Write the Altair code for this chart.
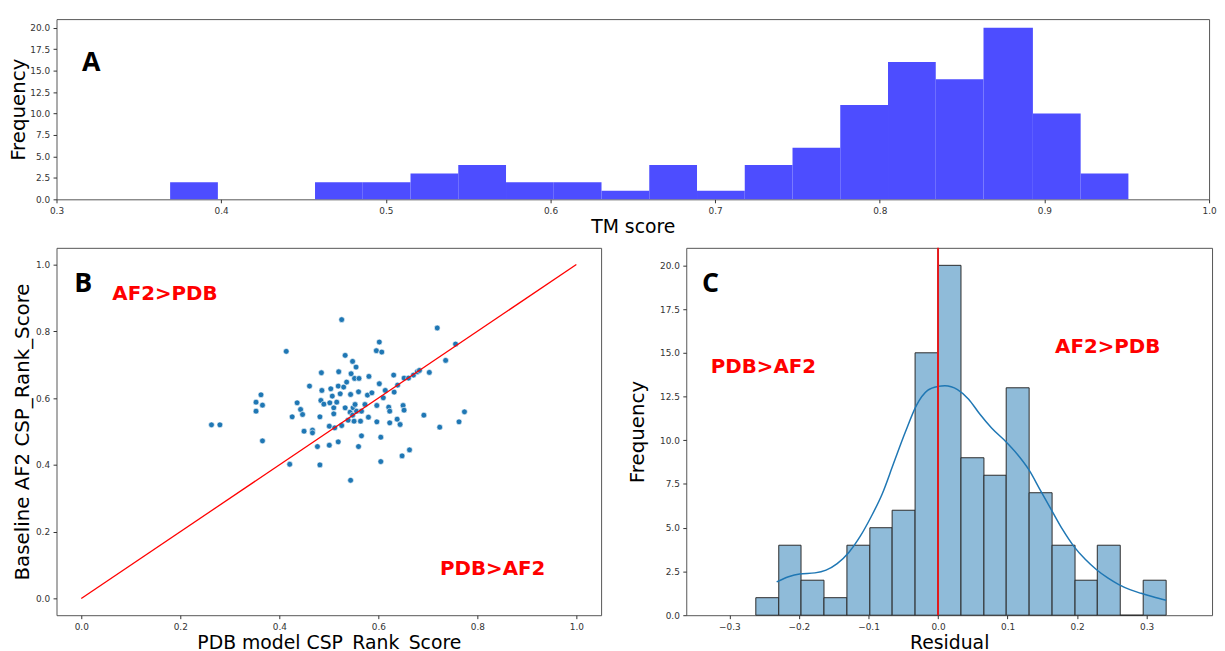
import altair as alt
import pandas as pd

FONT = "DejaVu Sans"

# ---------------- Panel A: TM score histogram ----------------
tm_bin_start = [0.369, 0.398, 0.428, 0.457, 0.486, 0.515, 0.544, 0.573, 0.602, 0.631,
                0.660, 0.689, 0.718, 0.747, 0.776, 0.805, 0.834, 0.863, 0.893, 0.922]
tm_bin_end = [0.398, 0.428, 0.457, 0.486, 0.515, 0.544, 0.573, 0.602, 0.631, 0.660,
              0.689, 0.718, 0.747, 0.776, 0.805, 0.834, 0.863, 0.893, 0.922, 0.951]
tm_counts = [2, 0, 0, 2, 2, 3, 4, 2, 2, 1, 4, 1, 4, 6, 11, 16, 14, 20, 10, 3]
tm_ticks = [0.3, 0.4, 0.5, 0.6, 0.7, 0.8, 0.9, 1.0]
freq_ticks = [0, 2.5, 5, 7.5, 10, 12.5, 15, 17.5, 20]

# ---------------- Panel B: scatter ----------------
pdb_score = [0.263, 0.280, 0.353, 0.353, 0.363, 0.366, 0.366, 0.414, 0.421, 0.426,
             0.436, 0.443, 0.447, 0.450, 0.461, 0.467, 0.467, 0.477, 0.482, 0.482,
             0.485, 0.486, 0.484, 0.490, 0.501, 0.501, 0.502, 0.504, 0.507, 0.510,
             0.512, 0.516, 0.519, 0.519, 0.520, 0.523, 0.526, 0.526, 0.530, 0.533,
             0.533, 0.536, 0.539, 0.543, 0.544, 0.544, 0.545, 0.548, 0.548, 0.549,
             0.551, 0.552, 0.553, 0.555, 0.556, 0.560, 0.560, 0.561, 0.564, 0.566,
             0.566, 0.573, 0.578, 0.580, 0.581, 0.587, 0.596, 0.597, 0.597, 0.602,
             0.602, 0.605, 0.605, 0.607, 0.610, 0.614, 0.621, 0.623, 0.623, 0.631,
             0.632, 0.638, 0.639, 0.644, 0.648, 0.650, 0.652, 0.652, 0.661, 0.663,
             0.671, 0.679, 0.683, 0.692, 0.703, 0.719, 0.724, 0.736, 0.756, 0.763,
             0.774, 0.510]
af2_score = [0.520, 0.520, 0.588, 0.561, 0.610, 0.579, 0.472, 0.740, 0.402, 0.544,
             0.586, 0.566, 0.551, 0.501, 0.636, 0.504, 0.496, 0.455, 0.544, 0.400,
             0.676, 0.623, 0.593, 0.582, 0.459, 0.516, 0.586, 0.628, 0.606, 0.571,
             0.511, 0.588, 0.469, 0.636, 0.679, 0.613, 0.835, 0.518, 0.633, 0.728,
             0.571, 0.648, 0.534, 0.558, 0.611, 0.354, 0.673, 0.710, 0.549, 0.571,
             0.531, 0.659, 0.581, 0.693, 0.561, 0.619, 0.455, 0.659, 0.531, 0.561,
             0.487, 0.581, 0.609, 0.543, 0.665, 0.616, 0.742, 0.578, 0.529, 0.768,
             0.643, 0.483, 0.410, 0.738, 0.601, 0.623, 0.573, 0.561, 0.526, 0.669,
             0.618, 0.537, 0.639, 0.521, 0.427, 0.578, 0.564, 0.660, 0.660, 0.445,
             0.669, 0.679, 0.683, 0.549, 0.677, 0.810, 0.513, 0.713, 0.762, 0.529,
             0.559, 0.553]
diag_x = [0.0, 1.0]
diag_y = [0.0, 1.0]
unit_ticks = [0.0, 0.2, 0.4, 0.6, 0.8, 1.0]

# ---------------- Panel C: residual histogram + KDE ----------------
res_bin_start = [-0.262, -0.229, -0.197, -0.164, -0.131, -0.098, -0.066, -0.033, 0.000,
                 0.033, 0.066, 0.098, 0.131, 0.164, 0.197, 0.229, 0.262, 0.295]
res_bin_end = [-0.229, -0.197, -0.164, -0.131, -0.098, -0.066, -0.033, 0.000, 0.033,
               0.066, 0.098, 0.131, 0.164, 0.197, 0.229, 0.262, 0.295, 0.328]
res_counts = [1, 4, 2, 1, 4, 5, 6, 15, 20, 9, 8, 13, 7, 4, 2, 4, 0, 2]
kde_x = [-0.232, -0.215, -0.199, -0.177, -0.161, -0.145, -0.128, -0.112, -0.096, -0.080,
         -0.064, -0.047, -0.031, -0.015, 0.000, 0.010, 0.028, 0.044, 0.060, 0.077,
         0.098, 0.114, 0.131, 0.147, 0.163, 0.179, 0.195, 0.212, 0.228, 0.244,
         0.260, 0.276, 0.292, 0.309, 0.328]
kde_y = [1.90, 2.20, 2.36, 2.42, 2.58, 2.95, 3.60, 4.50, 5.64, 6.96,
         8.67, 10.47, 12.00, 12.85, 13.08, 13.12, 12.90, 12.35, 11.50, 10.70,
         9.90, 9.20, 8.29, 7.15, 6.02, 4.90, 3.95, 3.18, 2.60, 2.13,
         1.75, 1.46, 1.25, 1.05, 0.85]
res_ticks = [-0.3, -0.2, -0.1, 0.0, 0.1, 0.2, 0.3]

# ---------------- annotations ----------------
a_label = pd.DataFrame({"x": [0.321], "y": [15.9], "t": ["A"]})
b_label = pd.DataFrame({"x": [0.004], "y": [0.94], "t": ["B"]})
b_red = pd.DataFrame({"x": [0.169, 0.831], "y": [0.913, 0.087], "t": ["AF2>PDB", "PDB>AF2"]})
c_label = pd.DataFrame({"x": [-0.327], "y": [18.9], "t": ["C"]})
c_red = pd.DataFrame({"x": [-0.251, 0.244], "y": [14.2, 15.3], "t": ["PDB>AF2", "AF2>PDB"]})

LETTER = dict(font="Open Sans", fontSize=27, fontWeight="bold", color="black",
              align="center", baseline="middle")
RED = dict(font=FONT, fontSize=20, fontWeight="bold", color="#ff0000",
           align="center", baseline="middle")

# ---------------- Panel A ----------------
df_a = pd.DataFrame({"x": tm_bin_start, "x2": tm_bin_end, "y": tm_counts})
xA = alt.X("x:Q", scale=alt.Scale(domain=[0.3, 1.0], nice=False, zero=False),
           axis=alt.Axis(values=tm_ticks, format=".1f", title="TM score", titlePadding=3))
yA = alt.Y("y:Q", scale=alt.Scale(domain=[0, 21], nice=False),
           axis=alt.Axis(values=freq_ticks, format=".1f", title="Frequency", titlePadding=1))
A_bars = alt.Chart(df_a).mark_rect(color="#4d4dff", opacity=1).encode(
    x=xA, x2="x2:Q", y=yA, y2=alt.datum(0))
A_txt = alt.Chart(a_label).mark_text(**LETTER).encode(x=xA, y=yA, text="t:N")
A = alt.layer(A_bars, A_txt).properties(width=1164, height=182)

# ---------------- Panel B ----------------
df_b = pd.DataFrame({"x": pdb_score, "y": af2_score})
df_diag = pd.DataFrame({"x": diag_x, "y": diag_y})
xB = alt.X("x:Q", scale=alt.Scale(domain=[-0.05, 1.05], nice=False, zero=False),
           axis=alt.Axis(values=unit_ticks, format=".1f", title="PDB model CSP_Rank_Score",
                         titlePadding=3))
yB = alt.Y("y:Q", scale=alt.Scale(domain=[-0.05, 1.05], nice=False, zero=False),
           axis=alt.Axis(values=unit_ticks, format=".1f", title="Baseline AF2 CSP_Rank_Score",
                         titlePadding=3))
B_pts = alt.Chart(df_b).mark_circle(size=34, color="#1f77b4", opacity=1,
                                    stroke="white", strokeWidth=0.6).encode(x=xB, y=yB)
B_line = alt.Chart(df_diag).mark_line(color="#ff0000", strokeWidth=1.3).encode(x=xB, y=yB)
B_let = alt.Chart(b_label).mark_text(**LETTER).encode(x=xB, y=yB, text="t:N")
B_red = alt.Chart(b_red).mark_text(**RED).encode(x=xB, y=yB, text="t:N")
B = alt.layer(B_pts, B_line, B_let, B_red).properties(width=550, height=371)

# ---------------- Panel C ----------------
df_c = pd.DataFrame({"x": res_bin_start, "x2": res_bin_end, "y": res_counts})
df_kde = pd.DataFrame({"x": kde_x, "y": kde_y})
df_zero = pd.DataFrame({"x": [0.0]})
xC = alt.X("x:Q", scale=alt.Scale(domain=[-0.362, 0.394], nice=False, zero=False),
           axis=alt.Axis(values=res_ticks, format=".1f", title="Residual", titlePadding=3))
yC = alt.Y("y:Q", scale=alt.Scale(domain=[0, 21], nice=False),
           axis=alt.Axis(values=freq_ticks, format=".1f", title="Frequency", titlePadding=12))
C_bars = alt.Chart(df_c).mark_rect(color="#8fbbd9", opacity=1, stroke="#2b2b2b",
                                   strokeWidth=1).encode(x=xC, x2="x2:Q", y=yC, y2=alt.datum(0))
C_kde = alt.Chart(df_kde).mark_line(color="#1f77b4", strokeWidth=1.5,
                                    interpolate="monotone").encode(x=xC, y=yC)
C_rule = alt.Chart(df_zero).mark_rule(color="#e4191c", strokeWidth=2).encode(x=xC)
C_let = alt.Chart(c_label).mark_text(**LETTER).encode(x=xC, y=yC, text="t:N")
C_red = alt.Chart(c_red).mark_text(**RED).encode(x=xC, y=yC, text="t:N")
C = alt.layer(C_bars, C_kde, C_rule, C_let, C_red).properties(width=531, height=371)

chart = (
    alt.vconcat(A, alt.hconcat(B, C, spacing=25), spacing=8)
    .properties(padding={"left": 0, "top": 7, "right": 0, "bottom": 0})
    .configure_view(stroke="#555555", strokeWidth=1)
    .configure_axis(domain=False, grid=False, tickColor="#333333", tickSize=3.5,
                    labelFont=FONT, labelFontSize=9, labelColor="#333333", labelPadding=3.5,
                    labelFlush=False, labelOverlap=False,
                    titleFont=FONT, titleFontSize=19, titleFontWeight="normal",
                    titleColor="black")
    .configure_axisY(titleFontSize=20)
)

chart.save("out.html", embed_options={"renderer": "svg", "actions": False})
